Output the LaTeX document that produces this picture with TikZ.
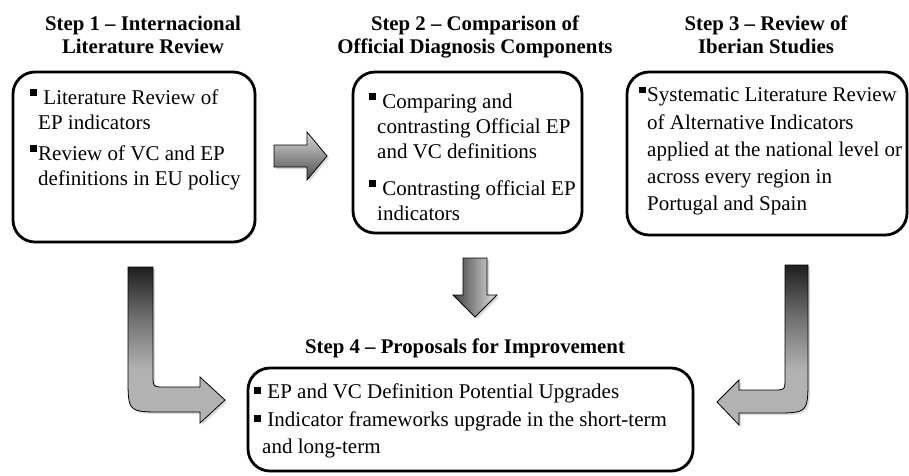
\documentclass[tikz,border=0pt]{standalone}
\usepackage{fontspec}
\setmainfont{Liberation Serif}
\usepackage{tikz}
\usepackage{xcolor}
\usetikzlibrary{shadows}

\newcommand\sqbul[1][8.5pt]{\leavevmode\llap{\rule[#1]{6.5pt}{6.5pt}\hspace{1.5pt}}}
\pgfdeclareverticalshading{bentshade}{100bp}{color(0bp)=(black!30); color(42bp)=(black!30); color(58bp)=(black!55); color(75bp)=(black!88); color(100bp)=(black!88)}

\tikzset{
  stepbox/.style={draw, line width=2.8pt, rounded corners=22pt, fill=white, inner sep=0pt,
    drop shadow={opacity=.2, shadow xshift=1.5pt, shadow yshift=-1.5pt}},
  steptitle/.style={font=\fontsize{20.8}{23}\selectfont\bfseries, align=center, anchor=base, inner sep=0pt},
  steptext/.style={font=\fontsize{21}{25}\selectfont, align=left, anchor=base west, inner sep=0pt},
  blockarrow/.style={draw=black, line width=.8pt, line join=miter,
    drop shadow={opacity=.3, shadow xshift=2pt, shadow yshift=-2pt}}
}

\begin{document}
\begin{tikzpicture}[x=1pt,y=-1pt]
  \useasboundingbox (0,0) rectangle (909,475);

  \node (s1) [steptitle] at (143,53) {Step 1 -- Internacional\\Literature Review};
  \node (s2) [steptitle] at (475,53) {Step 2 -- Comparison of\\Official Diagnosis Components};
  \node (s3) [steptitle] at (766,53) {Step 3 -- Review of\\Iberian Studies};
  \node (s4) [steptitle] at (465,353) {Step 4 -- Proposals for Improvement};

  \node (b1) [stepbox, minimum width=242pt, minimum height=170pt] at (134,157) {};
  \node (b2) [stepbox, minimum width=229pt, minimum height=161pt] at (467.5,152.5) {};
  \node (b3) [stepbox, minimum width=280pt, minimum height=163pt] at (767,153.5) {};
  \node (b4) [stepbox, minimum width=445pt, minimum height=103pt] at (470.5,419.5) {};

  \node (lit) [steptext] at (38,185)
    {\sqbul\ Literature Review of\\EP indicators\\[6pt]
     \sqbul Review of VC and EP\\definitions in EU policy};
  \node (cmp) [steptext] at (377,220)
    {\sqbul\ Comparing and\\contrasting Official EP\\and VC definitions\\[12pt]
     \sqbul\ Contrasting official EP\\indicators};
  \node (ibr) [steptext] at (647,210)
    {\sqbul Systematic Literature Review\\[2.5pt]of Alternative Indicators\\[2pt]
     applied at the national level or\\[2pt]across every region in\\[2pt]Portugal and Spain};
  \node (prop) [steptext] at (262,453)
    {\sqbul[5pt] EP and VC Definition Potential Upgrades\\[3pt]
     \sqbul[5pt] Indicator frameworks upgrade in the short-term\\[1.5pt]and long-term};

  \coordinate (a12) at (274,145);
  \draw[blockarrow, top color=black!15, bottom color=black!70]
    (a12) -- ++(33,0) -- ++(0,-13) -- ++(20,24) -- ++(-20,24) -- ++(0,-13) -- ++(-33,0) -- cycle;
  \coordinate (a24) at (463,258);
  \draw[blockarrow, left color=black!75, right color=black!12]
    (a24) -- ++(24,0) -- ++(0,37) -- ++(10,0) -- ++(-22,22) -- ++(-22,-22) -- ++(10,0) -- cycle;
  \coordinate (a14) at (128,267);
  \draw[blockarrow, shading=bentshade]
    (a14) -- (153,267) -- (153,375) .. controls (153,387) .. (165,387) -- (200,387) -- (200,377)
    -- (225,400) -- (200,423) -- (200,412) -- (163,412) .. controls (128,412) .. (128,377) -- cycle;
  \coordinate (a34) at (785,265);
  \draw[blockarrow, shading=bentshade]
    (a34) -- (808,265) -- (808,378) .. controls (808,413) .. (773,413) -- (739,413) -- (739,425)
    -- (717,402) -- (739,380) -- (739,390) -- (773,390) .. controls (785,390) .. (785,378) -- cycle;
\end{tikzpicture}
\end{document}
